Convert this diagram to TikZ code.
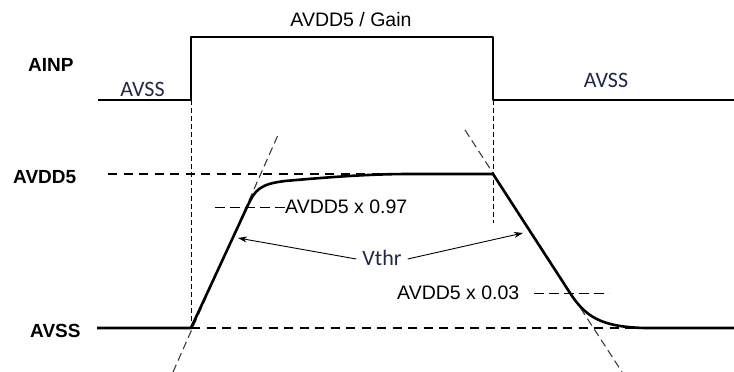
\documentclass[tikz,border=0pt]{standalone}
\usepackage{fontspec}
\setmainfont{Liberation Sans}
\newfontfamily\calib{Carlito}
\usetikzlibrary{arrows.meta}
\definecolor{navy}{RGB}{34,38,72}
\definecolor{tgray}{RGB}{60,60,60}
\tikzset{
  sig/.style={line width=2.6pt, line join=round},
  lvl/.style={line width=2.2pt, dash pattern=on 9pt off 6.5pt},
  vguide/.style={line width=1pt, dash pattern=on 5pt off 3pt},
  tang/.style={line width=1.1pt, tgray, dash pattern=on 8pt off 4.5pt},
  thr/.style={line width=1pt, dash pattern=on 10pt off 5pt},
  lab/.style={font=\fontsize{19}{22}\selectfont\bfseries, anchor=base west, inner sep=0pt},
  alab/.style={font=\fontsize{19.5}{22}\selectfont, inner sep=0pt},
  clab/.style={font=\calib\fontsize{22}{24}\selectfont, text=navy, inner sep=0pt},
  arr/.style={line width=0.9pt, -{Stealth[length=9pt,width=6pt]}}
}
\begin{document}
\begin{tikzpicture}[x=1pt,y=-1pt]
\useasboundingbox (0,0) rectangle (734,372);
% labels
\node[lab] (ainp) at (28,71) {AINP};
\node[lab] (lvdd) at (13,183) {AVDD5};
\node[lab] (lvss) at (30,337) {AVSS};
\node[alab, anchor=base] (gain) at (351,26.5) {AVDD5 / Gain};
\node[clab] (avssl) at (142.5,89) {AVSS};
\node[clab] (avssr) at (606,80) {AVSS};
\node[alab, anchor=base west] (p97) at (285,213) {AVDD5 x 0.97};
\node[alab, anchor=base west] (p03) at (397,299) {AVDD5 x 0.03};
\node[clab] (vthr) at (382,258) {Vthr};
% coordinates
\coordinate (a0) at (98,100);
\coordinate (a1) at (191,100);
\coordinate (a2) at (191,37);
\coordinate (a3) at (493,37);
\coordinate (a4) at (493,100);
\coordinate (a5) at (734,100);
\coordinate (s0) at (97,328);
\coordinate (s1) at (191,328);
\coordinate (r1) at (248,205);
\coordinate (r2) at (285,181);
\coordinate (r3) at (410,174);
\coordinate (f0) at (493,174);
\coordinate (f1) at (570,293);
\coordinate (f2) at (645,328);
\coordinate (s2) at (734,328);
% guides
\draw[lvl] (108,174) -- (490,174);
\draw[lvl] (s1) -- (640,328);
\draw[vguide] (a1) -- (s1);
\draw[vguide] (a4) -- (493,223);
\draw[tang] (173,372) -- (278,135);
\draw[tang] (465,130) -- (622,372);
\draw[thr] (215,207) -- (p97.west|-215,207);
\draw[thr] (534,293) -- (609,293);
% AINP
\draw[sig, line cap=butt] (a0) -- (a1) -- (a2) -- (a3) -- (a4) -- (a5);
% output
\draw[sig] (s0) -- (s1) -- (r1) .. controls (255,190) and (260,184) .. (r2)
  .. controls (330,177) and (370,174) .. (r3) -- (f0) -- (f1)
  .. controls (585,316) and (600,327) .. (f2) -- (s2);
% arrows
\coordinate (t1) at (238,238);
\coordinate (t2) at (523,233);
\draw[arr] (vthr.west) ++(-6,1) -- (t1);
\draw[arr] (vthr.east) ++(6,1) -- (t2);
\end{tikzpicture}
\end{document}
